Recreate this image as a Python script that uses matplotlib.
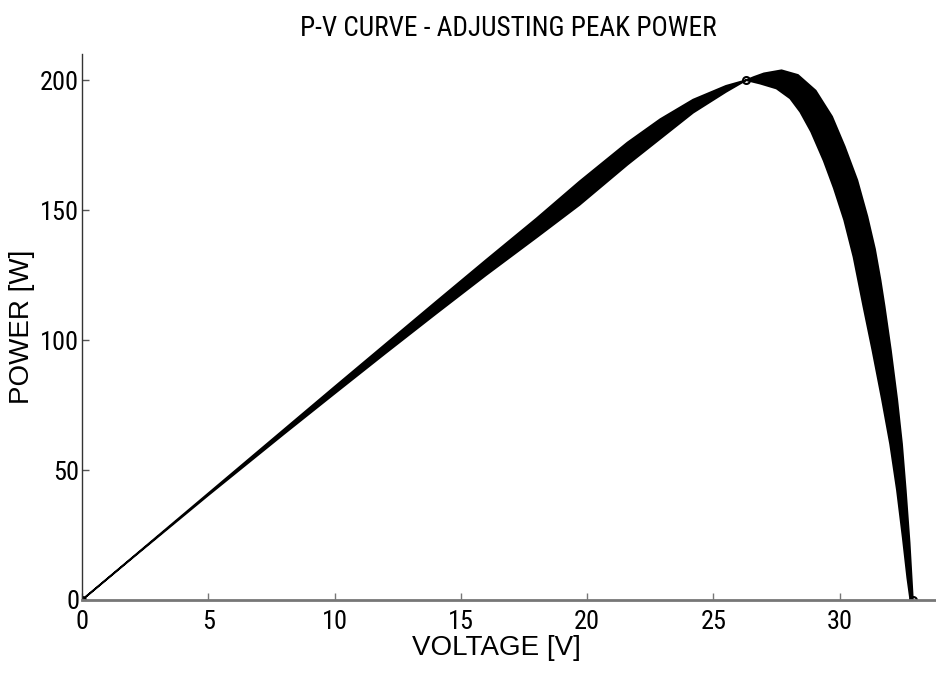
import matplotlib
matplotlib.use("Agg")
import matplotlib.pyplot as plt

# Envelope of the family of P-V curves produced while the model is tuned
# so that its maximum power point lands on the datasheet value.
# Upper / outer boundary of the family (left to right).
upper_v = [0, 2, 5, 8, 10, 12, 14, 16, 18, 19.7, 21.6, 22.9, 24.2, 25.5, 26.3,
           26.6, 27.0, 27.7, 28.35, 29.05, 29.7, 30.2, 30.7, 31.1, 31.4,
           31.62, 31.78, 32.03, 32.28, 32.47, 32.62, 32.77, 32.9]
upper_p = [0, 16.4, 41.0, 65.6, 82.0, 98.3, 114.6, 130.8, 146.8, 161.0, 176.0,
           185.0, 192.5, 197.8, 200.0, 201.2, 202.6, 203.8, 202.0, 196.0, 186.0,
           174.5, 161.5, 147.5, 135.0, 123.0, 113.0, 96.0, 77.0, 60.0, 42.0,
           22.0, 0]

# Lower / inner boundary of the family (left to right).
lower_v = [0, 2, 5, 8, 10, 12, 14, 16, 18, 19.7, 21.6, 22.9, 24.2, 25.5, 26.3,
           26.85, 27.5, 28.04, 28.44, 28.87, 29.37, 29.77, 30.18, 30.55, 30.94,
           31.3, 31.68, 32.0, 32.27, 32.5, 32.68, 32.8]
lower_p = [0, 16.2, 40.3, 63.9, 79.4, 94.8, 110.0, 125.0, 139.5, 152.0, 167.5,
           177.5, 187.5, 195.5, 200.0, 198.7, 196.8, 193.0, 187.8, 180.2, 169.0,
           158.5, 146.2, 132.0, 113.0, 96.0, 77.0, 60.0, 42.3, 24.0, 8.5, 0]

# Remarkable points: short circuit, maximum power point, open circuit
key_v = [0, 26.3, 32.9]
key_p = [0, 200, 0]

x_ticks = [0, 5, 10, 15, 20, 25, 30]
y_ticks = [0, 50, 100, 150, 200]

narrow = ["Roboto Condensed", "Liberation Sans", "DejaVu Sans"]
regular = ["Liberation Sans", "DejaVu Sans"]

fig = plt.figure(figsize=(9.37, 6.73), dpi=100)
ax = fig.add_axes([0.0875, 0.1085, 0.911, 0.811])

poly_v = upper_v + lower_v[::-1]
poly_p = upper_p + lower_p[::-1]
ax.fill(poly_v, poly_p, facecolor="black", edgecolor="black", linewidth=1.3,
        joinstyle="round")
ax.plot(key_v, key_p, linestyle="none", marker="o", markersize=5,
        markerfacecolor="none", markeredgecolor="black", markeredgewidth=1.5)

ax.set_xlim(0, 33.8)
ax.set_ylim(0, 210)
ax.set_xticks(x_ticks)
ax.set_yticks(y_ticks)
ax.set_xticklabels([str(t) for t in x_ticks], family=narrow, fontsize=19)
ax.set_yticklabels([str(t) for t in y_ticks], family=narrow, fontsize=19)

for side in ("top", "right"):
    ax.spines[side].set_visible(False)
ax.spines["left"].set_color("#333333")
ax.spines["left"].set_linewidth(1.0)
ax.spines["bottom"].set_color("#777777")
ax.spines["bottom"].set_linewidth(2.0)
ax.tick_params(axis="x", direction="in", length=5, width=1, color="#777777", pad=7)
ax.tick_params(axis="y", direction="in", length=5, width=1, color="#555555", pad=2)

ax.set_xlabel("VOLTAGE [V]", family=regular, fontsize=20)
ax.xaxis.set_label_coords(0.486, -0.064)
ax.set_ylabel("POWER [W]", family=regular, fontsize=20)
ax.yaxis.set_label_coords(-0.055, 0.5)
ax.set_title("P-V CURVE - ADJUSTING PEAK POWER", family=narrow, fontsize=19.6, pad=13)

fig.savefig("out.png", dpi=100)
